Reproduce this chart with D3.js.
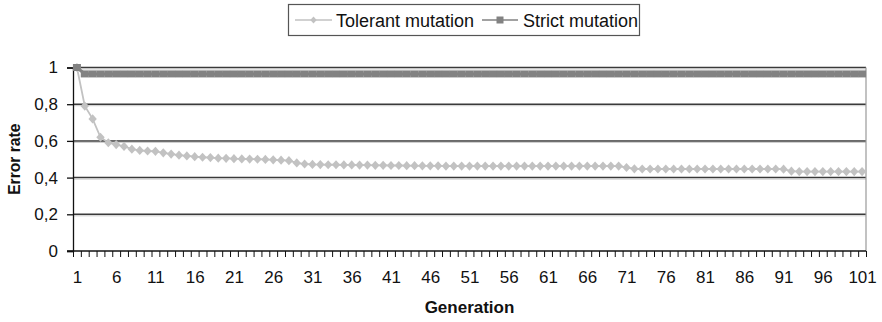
<!DOCTYPE html>
<html><head><meta charset="utf-8">
<script src="https://cdn.jsdelivr.net/npm/d3@7"></script>
<style>
html,body{margin:0;padding:0;background:#fff;}
svg{display:block;}
text{font-family:"Liberation Sans",Arial,sans-serif;fill:#111;}
</style></head>
<body>
<svg id="chart" width="882" height="322"></svg>
<script>
const generations = d3.range(1, 102);
const seriesNames = ["Tolerant mutation", "Strict mutation"];
const tolerant = [
  1.0, 0.79, 0.72, 0.62, 0.59, 0.58, 0.57, 0.555, 0.548, 0.545,
  0.543, 0.535, 0.528, 0.522, 0.518, 0.514, 0.511, 0.509, 0.506, 0.505,
  0.503, 0.502, 0.501, 0.500, 0.499, 0.497, 0.495, 0.492, 0.480, 0.474,
  0.472, 0.471, 0.470, 0.470, 0.469, 0.469, 0.468, 0.468, 0.467, 0.467,
  0.466, 0.466, 0.465, 0.465, 0.464, 0.464, 0.464, 0.463, 0.463, 0.463,
  0.463, 0.463, 0.463, 0.463, 0.463, 0.463, 0.463, 0.463, 0.463, 0.463,
  0.463, 0.463, 0.463, 0.463, 0.463, 0.463, 0.463, 0.463, 0.463, 0.463,
  0.455, 0.448, 0.447, 0.447, 0.447, 0.447, 0.447, 0.447, 0.447, 0.447,
  0.447, 0.447, 0.447, 0.447, 0.447, 0.447, 0.447, 0.447, 0.447, 0.447,
  0.446, 0.435, 0.433, 0.433, 0.433, 0.433, 0.433, 0.433, 0.433, 0.433, 0.433
];
const strict = [
  1.0, 0.965, 0.965, 0.965, 0.965, 0.965, 0.965, 0.965, 0.965, 0.965,
  0.965, 0.965, 0.965, 0.965, 0.965, 0.965, 0.965, 0.965, 0.965, 0.965,
  0.965, 0.965, 0.965, 0.965, 0.965, 0.965, 0.965, 0.965, 0.965, 0.965,
  0.965, 0.965, 0.965, 0.965, 0.965, 0.965, 0.965, 0.965, 0.965, 0.965,
  0.965, 0.965, 0.965, 0.965, 0.965, 0.965, 0.965, 0.965, 0.965, 0.965,
  0.965, 0.965, 0.965, 0.965, 0.965, 0.965, 0.965, 0.965, 0.965, 0.965,
  0.965, 0.965, 0.965, 0.965, 0.965, 0.965, 0.965, 0.965, 0.965, 0.965,
  0.965, 0.965, 0.965, 0.965, 0.965, 0.965, 0.965, 0.965, 0.965, 0.965,
  0.965, 0.965, 0.965, 0.965, 0.965, 0.965, 0.965, 0.965, 0.965, 0.965,
  0.965, 0.965, 0.965, 0.965, 0.965, 0.965, 0.965, 0.965, 0.965, 0.965, 0.965
];
const xTickLabels = [1, 6, 11, 16, 21, 26, 31, 36, 41, 46, 51, 56, 61, 66, 71, 76, 81, 86, 91, 96, 101];
const yTicks = [0, 0.2, 0.4, 0.6, 0.8, 1];
const yTickLabels = ["0", "0,2", "0,4", "0,6", "0,8", "1"];
const xTitle = "Generation";
const yTitle = "Error rate";

const svg = d3.select("#chart");
const L = 73, R = 866, T = 67.5, B = 251;
const x = d3.scaleLinear().domain([0.5, 101.5]).range([L, R]);
const y = d3.scaleLinear().domain([0, 1]).range([B, T]);

// gridlines
svg.append("g").selectAll("line").data(yTicks.filter(d => d > 0)).join("line")
  .attr("x1", L).attr("x2", R).attr("y1", d => y(d)).attr("y2", d => y(d))
  .attr("stroke", "#3a3a3a").attr("stroke-width", 1.5);
svg.append("g").selectAll("line").data(yTicks.filter(d => d > 0)).join("line")
  .attr("x1", L).attr("x2", R).attr("y1", d => y(d) + 1.5).attr("y2", d => y(d) + 1.5)
  .attr("stroke", "#bbb").attr("stroke-width", 0.8);
// right border
svg.append("line").attr("x1", R).attr("x2", R).attr("y1", T).attr("y2", B)
  .attr("stroke", "#999").attr("stroke-width", 1.2);

// y axis
const yAxis = d3.axisLeft(y).tickValues(yTicks).tickSize(6).tickPadding(9)
  .tickFormat((d, i) => yTickLabels[i]);
const gy = svg.append("g").attr("transform", `translate(${L},0)`).call(yAxis);
gy.select(".domain").attr("stroke", "#111").attr("stroke-width", 1.3);
gy.selectAll(".tick line").attr("stroke", "#111").attr("stroke-width", 1.3);
gy.selectAll("text").attr("font-size", 17).style("fill", "#111");

// x axis: minor boundary ticks
const bounds = d3.range(0.5, 102, 1);
const xAxisTicks = d3.axisBottom(x).tickValues(bounds).tickSize(6).tickFormat("");
const gx = svg.append("g").attr("transform", `translate(0,${B})`).call(xAxisTicks);
gx.select(".domain").attr("stroke", "#111").attr("stroke-width", 1.3).attr("d", `M${L - 6},0H${R}`);
gx.selectAll(".tick line").attr("stroke", "#111").attr("stroke-width", 1);
const xAxisLabels = d3.axisBottom(x).tickValues(xTickLabels).tickSize(0).tickPadding(20);
const gxl = svg.append("g").attr("transform", `translate(0,${B})`).call(xAxisLabels);
gxl.select(".domain").remove();
gxl.selectAll("text").attr("font-size", 17).style("fill", "#111");

// titles
svg.append("text").attr("x", (L + R) / 2).attr("y", 313).attr("text-anchor", "middle")
  .attr("font-size", 17).attr("font-weight", "bold").text(xTitle);
svg.append("text").attr("transform", `translate(20,${(T + B) / 2}) rotate(-90) scale(0.92,1)`)
  .attr("text-anchor", "middle").attr("font-size", 17).attr("font-weight", "bold").text(yTitle);

// series
const tolColor = "#c2c2c2", strColor = "#828282";
const line = d3.line().x((d, i) => x(generations[i])).y(d => y(d));
svg.append("path").datum(tolerant).attr("d", line).attr("fill", "none")
  .attr("stroke", tolColor).attr("stroke-width", 1.8);
const diamondPath = "M0,-4.6L4.2,0L0,4.6L-4.2,0Z";
svg.append("g").selectAll("path").data(tolerant).join("path")
  .attr("transform", (d, i) => `translate(${x(generations[i])},${y(d)})`)
  .attr("d", diamondPath).attr("fill", tolColor);

svg.append("path").datum(strict).attr("d", line).attr("fill", "none")
  .attr("stroke", strColor).attr("stroke-width", 3);
svg.append("g").selectAll("rect").data(strict).join("rect")
  .attr("x", (d, i) => x(generations[i]) - 4).attr("y", d => y(d) - 3.5)
  .attr("width", 8).attr("height", 7).attr("fill", strColor);

// legend
const lg = svg.append("g");
lg.append("rect").attr("x", 288.5).attr("y", 4.5).attr("width", 351).attr("height", 31)
  .attr("fill", "#fff").attr("stroke", "#555").attr("stroke-width", 1.2);
const legendItems = [
  {name: seriesNames[0], color: tolColor, x0: 295, x1: 332, tx: 336, shape: "diamond"},
  {name: seriesNames[1], color: strColor, x0: 482, x1: 518, tx: 523, shape: "square"}
];
legendItems.forEach(it => {
  lg.append("line").attr("x1", it.x0).attr("x2", it.x1).attr("y1", 20).attr("y2", 20)
    .attr("stroke", it.color).attr("stroke-width", 1.6);
  if (it.shape === "diamond") {
    lg.append("path").attr("transform", `translate(${(it.x0 + it.x1) / 2},20)`)
      .attr("d", "M0,-3.5L3.2,0L0,3.5L-3.2,0Z").attr("fill", it.color);
  } else {
    lg.append("rect").attr("x", (it.x0 + it.x1) / 2 - 3.5).attr("y", 16.5)
      .attr("width", 7).attr("height", 7).attr("fill", it.color);
  }
  lg.append("text").attr("x", it.tx).attr("y", 26.5).attr("font-size", 18).text(it.name);
});
</script>
</body></html>
